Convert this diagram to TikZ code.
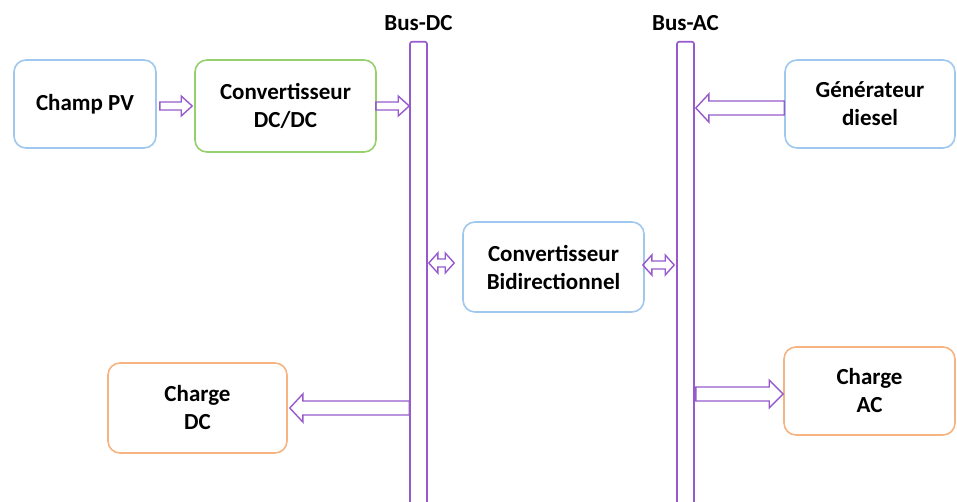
\documentclass[tikz,border=0pt]{standalone}
\usepackage{fontspec}
\setmainfont{Carlito}
\usetikzlibrary{calc,positioning}
\definecolor{busviolet}{RGB}{150,90,205}
\definecolor{boxblue}{RGB}{160,200,238}
\definecolor{boxgreen}{RGB}{150,208,110}
\definecolor{boxorange}{RGB}{245,180,130}

\tikzset{
  bloc/.style={draw, line width=1.6pt, rounded corners=12pt, align=center,
    font=\fontsize{23}{28}\selectfont\bfseries},
  bus/.style={draw=busviolet, line width=1.6pt, rounded corners=2pt,
    minimum width=17pt, minimum height=480pt, anchor=north, inner sep=0pt},
  % hollow block arrow, one head
  fleche/.style n args={3}{draw=busviolet, line width=1.4pt, line join=miter,
    to path={let \p1=(\tikztostart), \p2=(\tikztotarget),
      \n1={ifthenelse(\x2>\x1,1,-1)*#3} in
      (\x1,\y1+#1) -- (\x2-\n1,\y1+#1) -- (\x2-\n1,\y1+#2) -- (\x2,\y1)
      -- (\x2-\n1,\y1-#2) -- (\x2-\n1,\y1-#1) -- (\x1,\y1-#1) -- cycle}},
  % hollow block arrow, two heads
  double fleche/.style={draw=busviolet, line width=1.4pt, line join=miter,
    to path={let \p1=(\tikztostart), \p2=(\tikztotarget) in
      (\x1,\y1) -- (\x1+9pt,\y1+10pt) -- (\x1+9pt,\y1+4pt) -- (\x2-9pt,\y1+4pt)
      -- (\x2-9pt,\y1+10pt) -- (\x2,\y1) -- (\x2-9pt,\y1-10pt) -- (\x2-9pt,\y1-4pt)
      -- (\x1+9pt,\y1-4pt) -- (\x1+9pt,\y1-10pt) -- cycle}}
}

\begin{document}
\begin{tikzpicture}[x=1pt, y=-1pt]
	\useasboundingbox (0,0) rectangle (957,502);

	% buses
	\node[bus] (busdc) at (418.5,41) {};
	\node[bus] (busac) at (685.5,41) {};
	\node[font=\fontsize{23}{28}\selectfont\bfseries] at (418.5,23) {Bus-DC};
	\node[font=\fontsize{23}{28}\selectfont\bfseries] at (685.5,23) {Bus-AC};

	% blocks
	\node[bloc, draw=boxblue, minimum width=142pt, minimum height=88pt] (pv) at (85,104) {Champ PV};
	\node[bloc, draw=boxgreen, minimum width=181pt, minimum height=92pt] (dcdc) at (285.5,106) {Convertisseur\\DC/DC};
	\node[bloc, draw=boxblue, minimum width=170pt, minimum height=88pt] (gen) at (870,104) {Générateur\\diesel};
	\node[bloc, draw=boxblue, minimum width=181pt, minimum height=90pt] (bidir) at (553.5,267) {Convertisseur\\Bidirectionnel};
	\node[bloc, draw=boxorange, minimum width=179pt, minimum height=90pt] (chdc) at (197.5,408) {Charge\\DC};
	\node[bloc, draw=boxorange, minimum width=171pt, minimum height=88pt] (chac) at (869.5,391) {Charge\\AC};

	% power flows
	\draw[fleche={4pt}{10pt}{11pt}] ([xshift=3pt,yshift=-2pt]pv.east) to ([xshift=-2pt,yshift=-2pt]dcdc.west);
	\draw[fleche={4pt}{10pt}{11pt}] ([xshift=-1pt]dcdc.east) to (busdc.west |- dcdc.east);
	\draw[fleche={7pt}{14pt}{13pt}] ([yshift=-4pt]gen.west) to ([xshift=1pt,yshift=-4pt]busac.east |- gen.west);
	\draw[fleche={7pt}{14pt}{13pt}] (busdc.west |- chdc.east) to ([xshift=2pt]chdc.east);
	\draw[fleche={7pt}{14pt}{14pt}] ([xshift=1pt,yshift=-3pt]busac.east |- chac.west) to ([yshift=-3pt]chac.west);
	\draw[double fleche] ([xshift=1pt,yshift=4pt]busdc.east |- bidir.west) to ([xshift=-8pt,yshift=4pt]bidir.west);
	\draw[double fleche] ([xshift=-2pt,yshift=2pt]bidir.east) to ([xshift=-2pt,yshift=2pt]busac.west |- bidir.east);
\end{tikzpicture}
\end{document}
